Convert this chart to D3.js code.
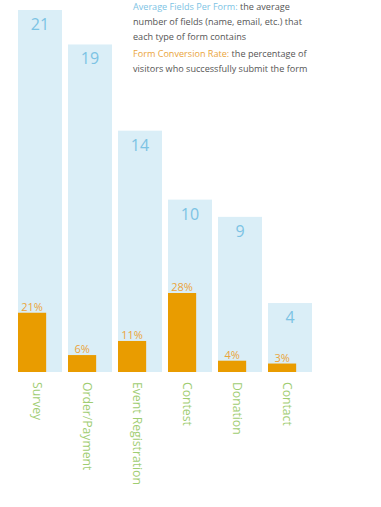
<!DOCTYPE html>
<html><head><meta charset="utf-8">
<script src="https://cdn.jsdelivr.net/npm/d3@7"></script>
<style>
html,body{margin:0;padding:0;background:#fff;}
text{font-family:"Open Sans",sans-serif;}
</style></head>
<body>
<svg id="chart" width="381" height="507"></svg>
<script>
const categories = ["Survey","Order/Payment","Event Registration","Contest","Donation","Contact"];
const avgFields = [21,19,14,10,9,4];
const conversionRate = [21,6,11,28,4,3];
const legendLines = [
  [{t:"Average Fields Per Form:",c:"blue"},{t:" the average",c:"gray"}],
  [{t:"number of fields (name, email, etc.) that",c:"gray"}],
  [{t:"each type of form contains",c:"gray"}],
  [{t:"Form Conversion Rate:",c:"orange"},{t:" the percentage of",c:"gray"}],
  [{t:"visitors who successfully submit the form",c:"gray"}]
];

const colors = {barBlue:"#daeef7", blueText:"#7cc3e4", orange:"#e99c00", orangeText:"#eaa43a", green:"#9fcd72", gray:"#555"};
const svg = d3.select("#chart");
const baseY = 372;

const x = d3.scaleBand().domain(categories).range([18,312]).paddingInner(0.12).paddingOuter(0);
const yF = d3.scaleLinear().domain([0,21]).range([baseY,10]);
const yC = d3.scaleLinear().domain([0,28]).range([baseY,293]);
const ow = x.bandwidth()*0.64;

const g = svg.append("g");
categories.forEach((c,i)=>{
  const x0 = x(c);
  g.append("rect").attr("x",x0).attr("y",yF(avgFields[i])).attr("width",x.bandwidth()).attr("height",baseY-yF(avgFields[i])).attr("fill",colors.barBlue);
  g.append("text").attr("x",x0+x.bandwidth()/2).attr("y",yF(avgFields[i])+20).attr("text-anchor","middle")
    .attr("font-size",16).attr("fill",colors.blueText).text(avgFields[i]);
  g.append("rect").attr("x",x0).attr("y",yC(conversionRate[i])).attr("width",ow).attr("height",baseY-yC(conversionRate[i])).attr("fill",colors.orange);
  g.append("text").attr("x",x0+ow/2).attr("y",yC(conversionRate[i])-2).attr("text-anchor","middle")
    .attr("font-size",11).attr("fill",colors.orangeText).text(conversionRate[i]+"%");
  g.append("text").attr("transform",`translate(${x0+19.5},382) rotate(90)`).attr("dy","0.35em")
    .attr("font-size",12.2).attr("fill",colors.green).text(c);
});

const legendY = [10,25,40,57,72];
legendLines.forEach((line,i)=>{
  const t = svg.append("text").attr("x",133).attr("y",legendY[i]).attr("font-size",9.1);
  line.forEach(s=>{
    t.append("tspan").attr("fill", s.c==="blue"?colors.blueText:s.c==="orange"?colors.orangeText:colors.gray).text(s.t);
  });
});
</script>
</body></html>
